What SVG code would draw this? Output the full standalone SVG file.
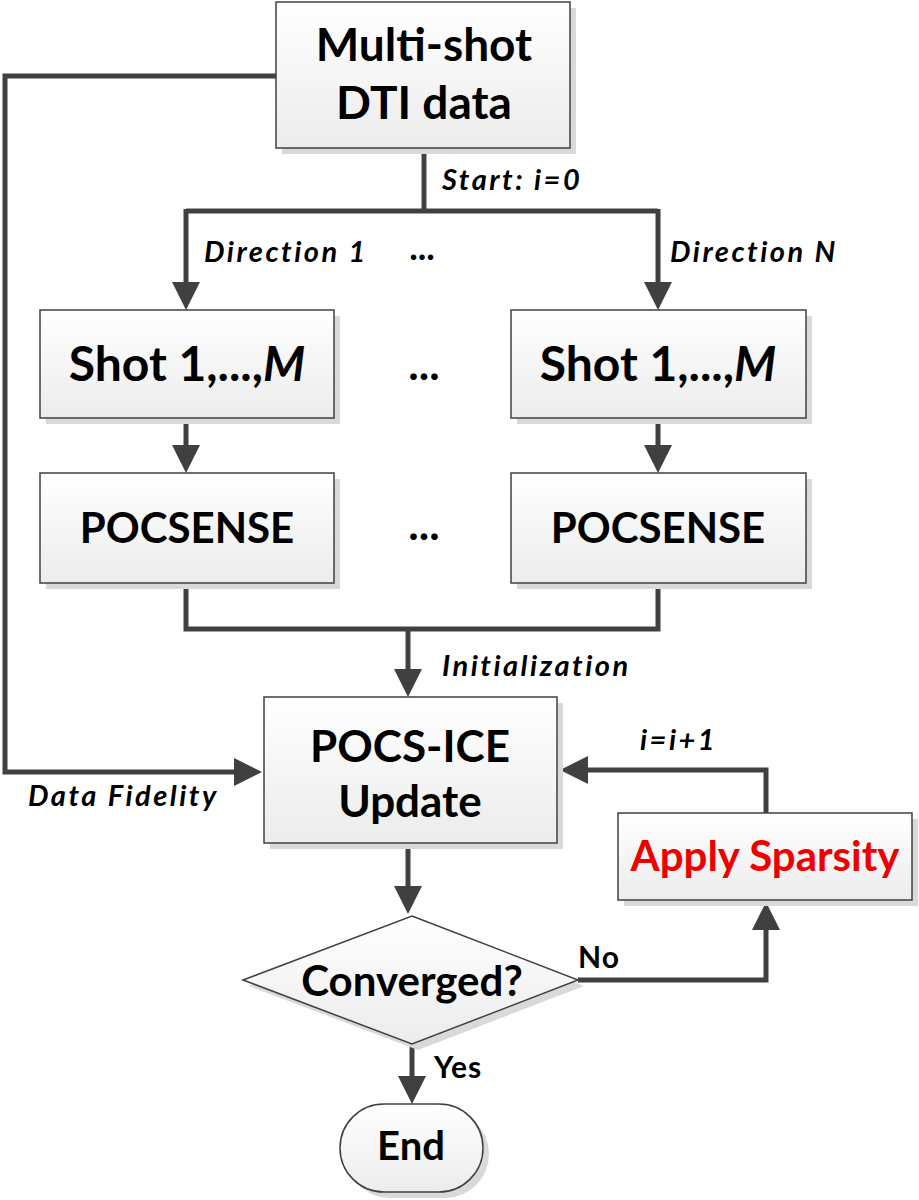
<svg xmlns="http://www.w3.org/2000/svg" width="919" height="1200" viewBox="0 0 919 1200">
<defs>
<linearGradient id="g" x1="0" y1="0" x2="0" y2="1"><stop offset="0" stop-color="#ffffff"/><stop offset="1" stop-color="#ececec"/></linearGradient>
</defs>
<style>
.box{fill:url(#g);stroke:#404040;stroke-width:1.5}
.sh{fill:#d9d9d9}
.c{fill:none;stroke:#404040;stroke-width:5}
.ah{fill:#404040}
.t{font-family:Lato,"Open Sans","Liberation Sans",sans-serif;font-weight:bold;fill:#000;text-anchor:middle}
.l{font-family:Lato,"Open Sans","Liberation Sans",sans-serif;font-weight:bold;font-style:italic;font-size:29px;letter-spacing:2.5px;fill:#000}
.n{font-family:Lato,"Open Sans","Liberation Sans",sans-serif;font-weight:bold;font-size:30px;letter-spacing:1px;fill:#000}
</style>
<rect width="919" height="1200" fill="#fff"/>
<g id="connectors">
<path class="c" d="M276,76 H5 V772 H234"/>
<polygon class="ah" points="262,772 234,758 234,786"/>
<path class="c" d="M424,148 V211"/>
<path class="c" d="M186,211 H658"/>
<path class="c" d="M186,209 V282"/>
<polygon class="ah" points="186,310 172,282 200,282"/>
<path class="c" d="M658,209 V282"/>
<polygon class="ah" points="658,310 644,282 672,282"/>
<path class="c" d="M186,418 V445"/>
<polygon class="ah" points="186,473 172,445 200,445"/>
<path class="c" d="M658,418 V445"/>
<polygon class="ah" points="658,473 644,445 672,445"/>
<path class="c" d="M186,583 V629 H658 V583"/>
<path class="c" d="M408,629 V669"/>
<polygon class="ah" points="408,697 394,669 422,669"/>
<path class="c" d="M766,813 V770 H588"/>
<polygon class="ah" points="560,770 588,756 588,784"/>
<path class="c" d="M408,843 V886"/>
<polygon class="ah" points="408,914 394,886 422,886"/>
<path class="c" d="M578,980 H766 V930"/>
<polygon class="ah" points="766,902 752,930 780,930"/>
<path class="c" d="M412,1044 V1076"/>
<polygon class="ah" points="412,1104 398,1076 426,1076"/>
</g>
<g id="n-data">
<rect class="sh" x="282" y="8" width="294" height="146"/>
<rect class="box" x="276" y="2" width="294" height="146"/>
<text class="t" x="424" y="61" font-size="46">Multi-shot</text>
<text class="t" x="424" y="119" font-size="46">DTI data</text>
</g>
<g id="n-shot1">
<rect class="sh" x="46" y="316" width="294" height="108"/>
<rect class="box" x="40" y="310" width="294" height="108"/>
<text class="t" x="187" y="381" font-size="48">Shot 1,...,<tspan font-style="italic">M</tspan></text>
</g>
<g id="n-shotN">
<rect class="sh" x="517" y="316" width="295" height="108"/>
<rect class="box" x="511" y="310" width="295" height="108"/>
<text class="t" x="658" y="381" font-size="48">Shot 1,...,<tspan font-style="italic">M</tspan></text>
</g>
<g id="n-pocs1">
<rect class="sh" x="46" y="479" width="294" height="110"/>
<rect class="box" x="40" y="473" width="294" height="110"/>
<text class="t" x="187" y="543" font-size="42">POCSENSE</text>
</g>
<g id="n-pocsN">
<rect class="sh" x="517" y="479" width="295" height="110"/>
<rect class="box" x="511" y="473" width="295" height="110"/>
<text class="t" x="658" y="543" font-size="42">POCSENSE</text>
</g>
<g id="n-ice">
<rect class="sh" x="270" y="703" width="293" height="146"/>
<rect class="box" x="264" y="697" width="293" height="146"/>
<text class="t" x="410" y="762" font-size="44">POCS-ICE</text>
<text class="t" x="410" y="817" font-size="44">Update</text>
</g>
<g id="n-sparsity">
<rect class="sh" x="624" y="819" width="294" height="87"/>
<rect class="box" x="618" y="813" width="294" height="87"/>
<text class="t" x="765" y="871" font-size="42" style="fill:#ee0000">Apply Sparsity</text>
</g>
<g id="n-conv">
<polygon class="sh" points="418,922 584,986 418,1050 249,986"/>
<polygon class="box" points="412,916 578,980 412,1044 243,980"/>
<text class="t" x="412" y="996" font-size="42">Converged?</text>
</g>
<g id="n-end">
<rect class="sh" x="346" y="1110" width="143" height="88" rx="44"/>
<rect class="box" x="340" y="1104" width="143" height="88" rx="44"/>
<text class="t" x="411" y="1160" font-size="40">End</text>
</g>
<g id="labels">
<text class="l" x="442" y="190">Start: i=0</text>
<text class="l" x="204" y="262">Direction 1</text>
<text class="t" x="422" y="260" font-size="36">...</text>
<text class="l" x="670" y="262">Direction N</text>
<text class="t" x="424" y="380" font-size="44">...</text>
<text class="t" x="424" y="540" font-size="44">...</text>
<text class="l" x="442" y="676">Initialization</text>
<text class="l" x="640" y="750">i=i+1</text>
<text class="l" x="28" y="806">Data Fidelity</text>
<text class="n" x="578" y="968">No</text>
<text class="n" x="434" y="1078">Yes</text>
</g>
</svg>
